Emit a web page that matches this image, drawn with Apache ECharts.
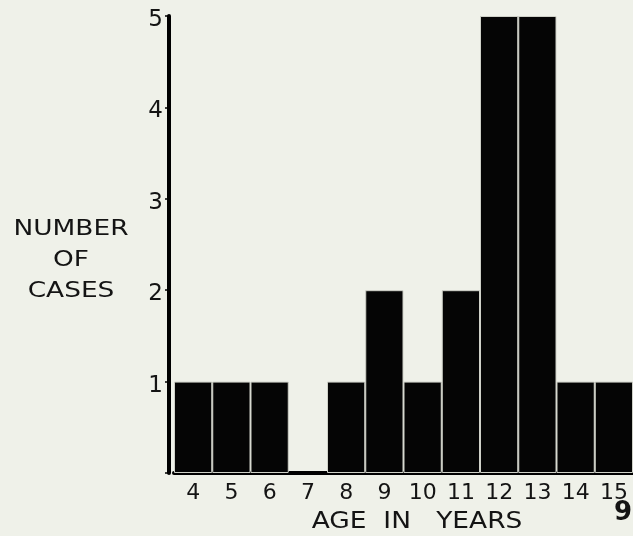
<!DOCTYPE html>
<html>
<head>
<meta charset="utf-8">
<script src="https://cdn.jsdelivr.net/npm/echarts@6/dist/echarts.min.js"></script>
<style>
html,body{margin:0;padding:0;background:#eff1e9;}
#chart{width:633px;height:536px;}
</style>
</head>
<body>
<div id="chart"></div>
<script>
const ages = ['4','5','6','7','8','9','10','11','12','13','14','15'];
const numberOfCases = [1,1,1,0,1,2,1,2,5,5,1,1];
const yTickValues = [0,1,2,3,4,5];
const yTitle = 'NUMBER\nOF\nCASES';
const xTitle = 'AGE  IN   YEARS';
const pageNumber = '9';

const ink = '#141414';
const barData = numberOfCases.map(v => v === 0
  ? {value: v, itemStyle: {borderColor: '#000', borderWidth: 2}}
  : v);

const chart = echarts.init(document.getElementById('chart'), null, {renderer:'canvas'});
chart.setOption({
  backgroundColor: '#eff1e9',
  animation: false,
  grid: {left: 174, right: -3, top: 16, bottom: 63, containLabel: false},
  xAxis: {
    type: 'category',
    data: ages,
    axisLine: {show: true, lineStyle: {color: '#000', width: 4}},
    axisTick: {show: false},
    axisLabel: {color: ink, fontFamily: 'DejaVu Sans', fontSize: 22, margin: 9}
  },
  yAxis: {
    type: 'value',
    min: yTickValues[0],
    max: yTickValues[yTickValues.length - 1],
    interval: 1,
    offset: 5,
    splitLine: {show: false},
    axisLine: {show: true, lineStyle: {color: '#000', width: 4}},
    axisTick: {show: true, length: 4, lineStyle: {color: '#000', width: 1.5}},
    axisLabel: {
      color: ink, fontFamily: 'DejaVu Sans', fontSize: 23, margin: 6,
      verticalAlign: 'top', lineHeight: 8,
      formatter: v => (v === 0 ? '' : String(v))
    }
  },
  series: [{
    type: 'bar',
    data: barData,
    barCategoryGap: '0%',
    itemStyle: {color: '#050505', borderColor: '#cfd1c8', borderWidth: 1}
  }],
  graphic: [
    {type: 'text', x: 71, y: 260, scaleX: 1.2,
     style: {text: yTitle, font: '22px "DejaVu Sans"', fill: ink, align: 'center', verticalAlign: 'middle', lineHeight: 31}},
    {type: 'text', x: 417, y: 522, scaleX: 1.15,
     style: {text: xTitle, font: '23px "DejaVu Sans"', fill: ink, align: 'center', verticalAlign: 'middle'}},
    {type: 'text', x: 623, y: 513,
     style: {text: pageNumber, font: 'bold 26px "DejaVu Sans"', fill: ink, align: 'center', verticalAlign: 'middle'}}
  ]
});
</script>
</body>
</html>
